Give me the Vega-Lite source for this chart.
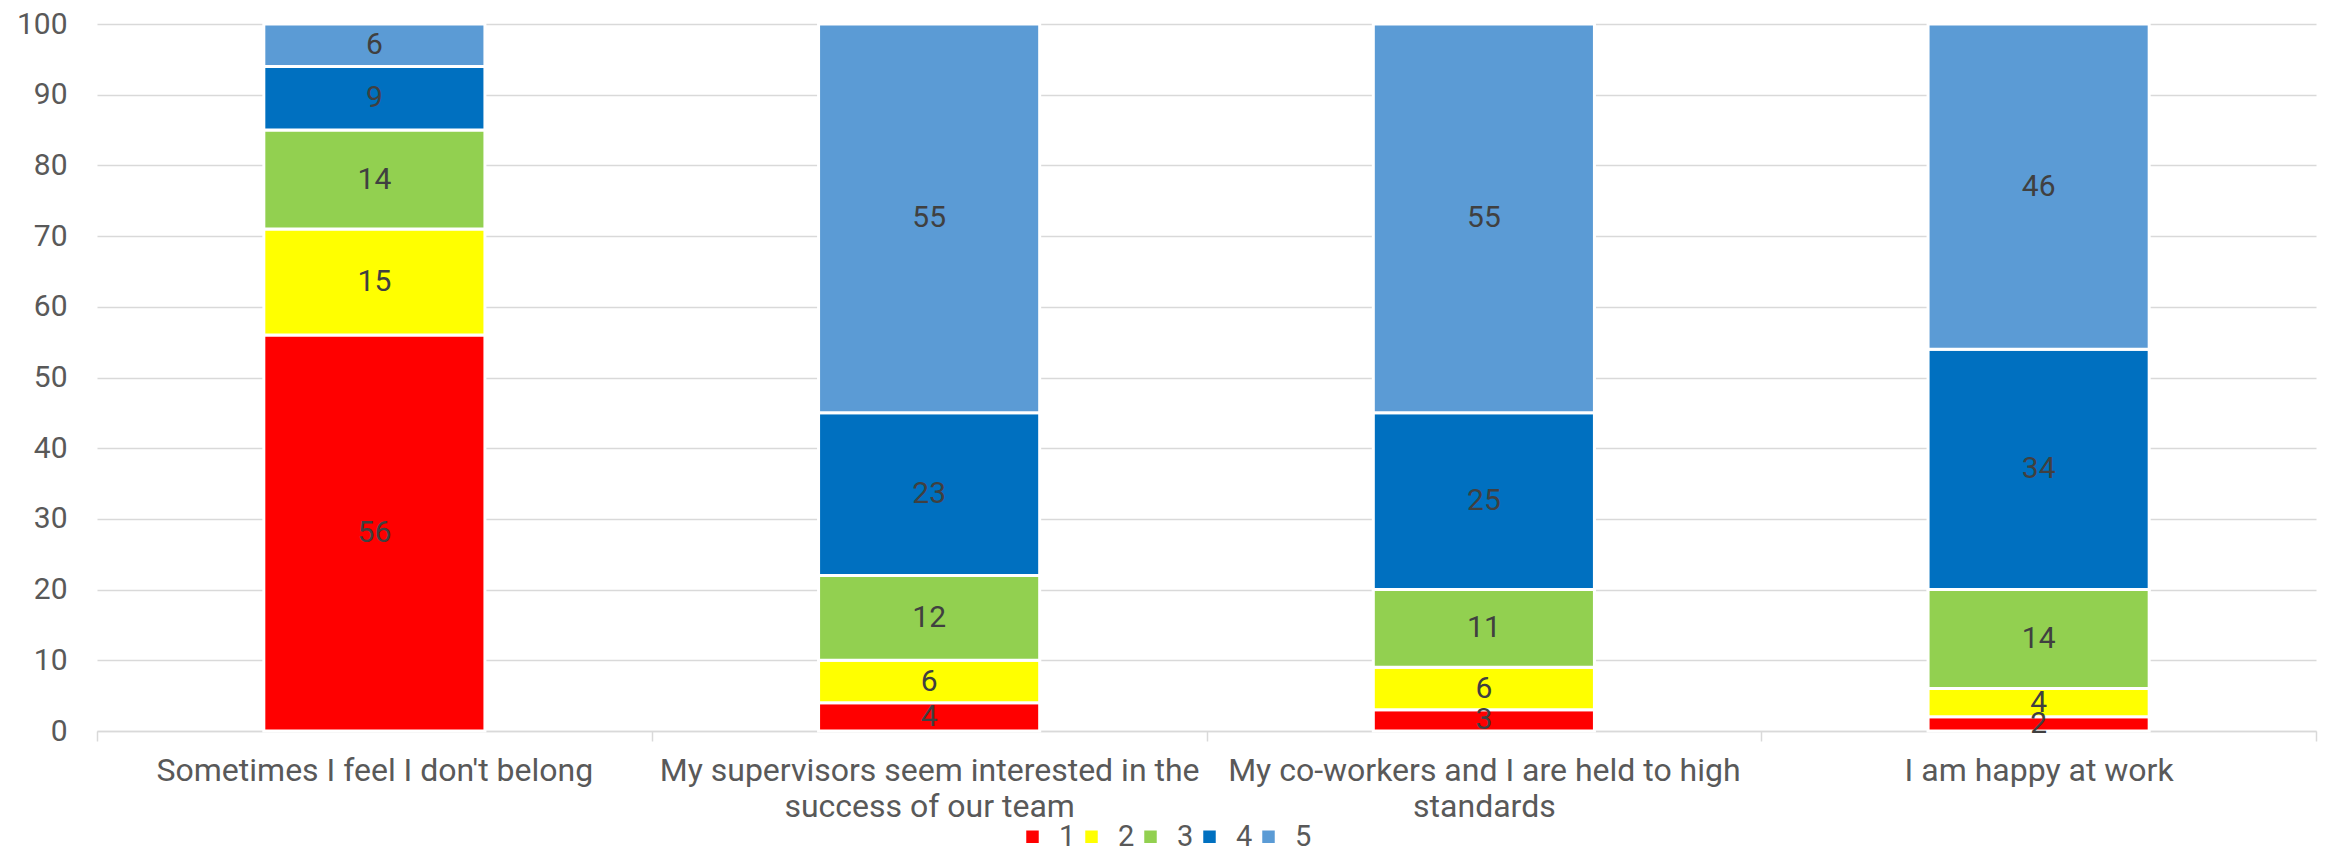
{
  "$schema": "https://vega.github.io/schema/vega-lite/v6.json",
  "autosize": "none",
  "width": 2219,
  "height": 707,
  "padding": {"left": 97, "top": 24, "right": 12, "bottom": 121},
  "background": "white",
  "config": {"font": "Roboto", "view": {"stroke": null}},
  "data": {
    "values": [
      {"statement": "Sometimes I feel I don't belong", "rating": "1", "value": 56},
      {"statement": "Sometimes I feel I don't belong", "rating": "2", "value": 15},
      {"statement": "Sometimes I feel I don't belong", "rating": "3", "value": 14},
      {"statement": "Sometimes I feel I don't belong", "rating": "4", "value": 9},
      {"statement": "Sometimes I feel I don't belong", "rating": "5", "value": 6},
      {"statement": "My supervisors seem interested in the success of our team", "rating": "1", "value": 4},
      {"statement": "My supervisors seem interested in the success of our team", "rating": "2", "value": 6},
      {"statement": "My supervisors seem interested in the success of our team", "rating": "3", "value": 12},
      {"statement": "My supervisors seem interested in the success of our team", "rating": "4", "value": 23},
      {"statement": "My supervisors seem interested in the success of our team", "rating": "5", "value": 55},
      {"statement": "My co-workers and I are held to high standards", "rating": "1", "value": 3},
      {"statement": "My co-workers and I are held to high standards", "rating": "2", "value": 6},
      {"statement": "My co-workers and I are held to high standards", "rating": "3", "value": 11},
      {"statement": "My co-workers and I are held to high standards", "rating": "4", "value": 25},
      {"statement": "My co-workers and I are held to high standards", "rating": "5", "value": 55},
      {"statement": "I am happy at work", "rating": "1", "value": 2},
      {"statement": "I am happy at work", "rating": "2", "value": 4},
      {"statement": "I am happy at work", "rating": "3", "value": 14},
      {"statement": "I am happy at work", "rating": "4", "value": 34},
      {"statement": "I am happy at work", "rating": "5", "value": 46}
    ]
  },
  "transform": [
    {"stack": "value", "groupby": ["statement"], "sort": [{"field": "rating", "order": "ascending"}], "as": ["v0", "v1"]},
    {"calculate": "(datum.v0 + datum.v1) / 2", "as": "mid"}
  ],
  "encoding": {
    "x": {
      "field": "statement",
      "type": "nominal",
      "sort": null,
      "scale": {"paddingInner": 0, "paddingOuter": 0},
      "axis": {
        "title": null,
        "labelAngle": 0,
        "labelFontSize": 32,
        "labelColor": "#595959",
        "labelLineHeight": 36,
        "labelPadding": 14,
        "labelLimit": 800,
        "labelExpr": "datum.value == 'My supervisors seem interested in the success of our team' ? ['My supervisors seem interested in the', 'success of our team'] : datum.value == 'My co-workers and I are held to high standards' ? ['My co-workers and I are held to high', 'standards'] : datum.value",
        "tickBand": "extent",
        "tickSize": 10,
        "tickColor": "#d9d9d9",
        "tickWidth": 1.5,
        "domainColor": "#d9d9d9",
        "domainWidth": 1.5
      }
    }
  },
  "layer": [
    {
      "mark": {"type": "bar", "width": {"band": 0.3986}, "stroke": "white", "strokeWidth": 3},
      "encoding": {
        "y": {
          "field": "v0",
          "type": "quantitative",
          "scale": {"domain": [0, 100]},
          "axis": {
            "title": null,
            "values": [0, 10, 20, 30, 40, 50, 60, 70, 80, 90, 100],
            "domain": false,
            "ticks": false,
            "labelPadding": 30,
            "labelFontSize": 30,
            "labelColor": "#595959",
            "gridColor": "#d9d9d9",
            "gridWidth": 1.5
          }
        },
        "y2": {"field": "v1"},
        "color": {
          "field": "rating",
          "type": "nominal",
          "scale": {"domain": ["1", "2", "3", "4", "5"], "range": ["#FF0000", "#FFFF00", "#92D050", "#0070C0", "#5B9BD5"]},
          "legend": {
            "title": null,
            "orient": "none",
            "direction": "horizontal",
            "legendX": 921,
            "legendY": 798,
            "symbolType": "square",
            "symbolSize": 156,
            "symbolStrokeWidth": 0,
            "labelFontSize": 29,
            "labelColor": "#595959",
            "labelOffset": 12,
            "columnPadding": 1
          }
        }
      }
    },
    {
      "mark": {"type": "text", "fontSize": 30, "color": "#404040"},
      "encoding": {
        "y": {"field": "mid", "type": "quantitative"},
        "text": {"field": "value", "type": "quantitative"}
      }
    }
  ]
}
